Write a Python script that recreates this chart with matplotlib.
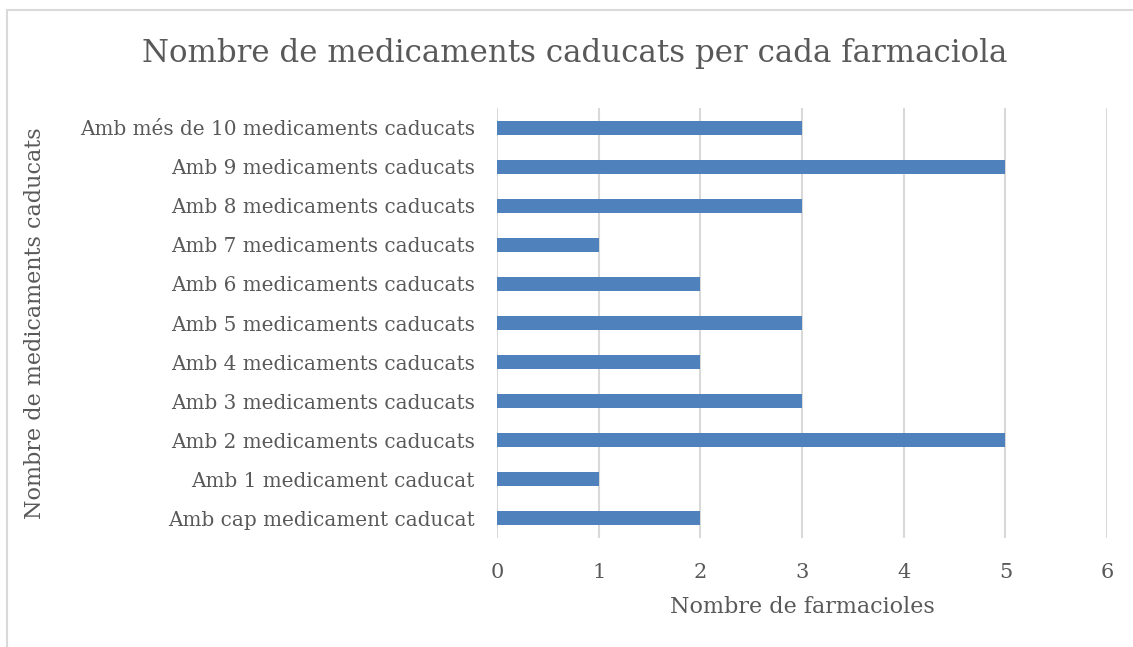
import matplotlib.pyplot as plt
from matplotlib.lines import Line2D

plt.rcParams['font.family'] = ['DejaVu Serif']

categories = ["Amb cap medicament caducat",
              "Amb 1 medicament caducat",
              "Amb 2 medicaments caducats",
              "Amb 3 medicaments caducats",
              "Amb 4 medicaments caducats",
              "Amb 5 medicaments caducats",
              "Amb 6 medicaments caducats",
              "Amb 7 medicaments caducats",
              "Amb 8 medicaments caducats",
              "Amb 9 medicaments caducats",
              "Amb més de 10 medicaments caducats"]
farmacioles = [2, 1, 5, 3, 2, 3, 2, 1, 3, 5, 3]
xticks = [0, 1, 2, 3, 4, 5, 6]

text_color = "#595959"
bar_color = "#4F81BD"
grid_color = "#D9D9D9"

fig = plt.figure(figsize=(11.33, 6.47), dpi=100)
ax = fig.add_axes([0.4387, 0.1685, 0.5384, 0.6645])

y = range(len(categories))
ax.barh(y, farmacioles, height=0.36, color=bar_color, zorder=3)

ax.set_xlim(0, 6)
ax.set_ylim(-0.5, len(categories) - 0.5)
ax.set_xticks(xticks)
ax.set_yticks(list(y))
ax.set_yticklabels(categories, fontsize=14.4)
ax.grid(axis="x", color=grid_color, linewidth=1.5, zorder=0)
for s in ax.spines.values():
    s.set_visible(False)
ax.tick_params(length=0, colors=text_color)
ax.tick_params(axis="x", pad=18, labelsize=15)
ax.tick_params(axis="y", pad=16)

ax.set_xlabel("Nombre de farmacioles", fontsize=16, color=text_color, labelpad=10)
fig.text(0.031, 0.5, "Nombre de medicaments caducats", rotation=90,
         fontsize=16, color=text_color, ha="center", va="center")
fig.text(0.507, 0.918, "Nombre de medicaments caducats per cada farmaciola",
         fontsize=22.2, color=text_color, ha="center", va="center")

# chart frame
fig.add_artist(Line2D([0.0062, 0.0062], [0.0, 0.985], transform=fig.transFigure,
                      color=grid_color, linewidth=1.5))
fig.add_artist(Line2D([0.0062, 1.0], [0.985, 0.985], transform=fig.transFigure,
                      color=grid_color, linewidth=1.5))

fig.savefig("out.png", dpi=100)
